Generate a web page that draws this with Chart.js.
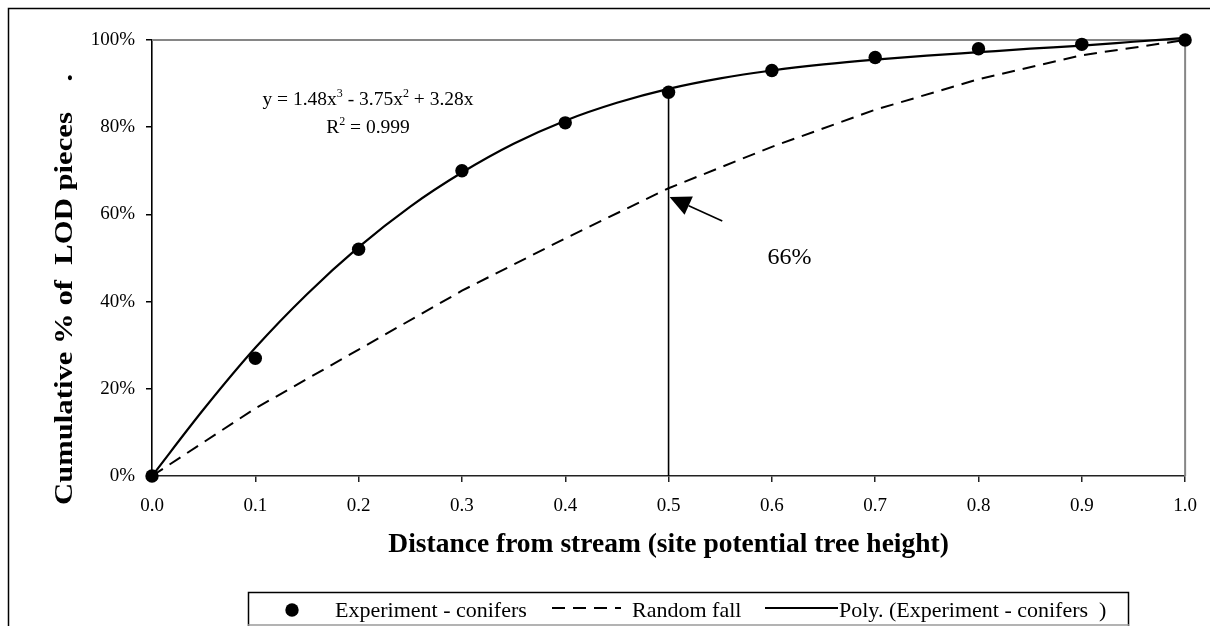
<!DOCTYPE html>
<html>
<head>
<meta charset="utf-8">
<script src="https://cdn.jsdelivr.net/npm/chart.js@4.4.0/dist/chart.umd.min.js"></script>
<style>
  html, body { margin: 0; padding: 0; background: #fff; }
  canvas { display: block; }
</style>
</head>
<body>
<canvas id="chart" width="1210" height="626"></canvas>
<script>
// measured experiment points (cumulative % at each distance)
const distances = [0, 0.1, 0.2, 0.3, 0.4, 0.5, 0.6, 0.7, 0.8, 0.9, 1.0];
const experimentPct = [0, 27, 52, 70, 81, 88, 93, 96, 98, 99, 100];
const randomFallPct = [0, 15.5, 29, 42.5, 54.5, 66, 75.5, 84, 91, 96.5, 100];

// trend line
const polyX = [0, 0.05, 0.1, 0.15, 0.2, 0.25, 0.3, 0.35, 0.4, 0.45, 0.5,
               0.55, 0.6, 0.65, 0.7, 0.75, 0.8, 0.85, 0.9, 0.95, 1.0];
const polyPct = [0, 15.3, 29.4, 41.7, 52.5, 61.8, 69.6, 76.2, 81.5, 85.6, 88.8,
                 91.2, 93.0, 94.4, 95.5, 96.4, 97.2, 98.0, 98.7, 99.6, 100.5];

const seriesLabels = ['Experiment - conifers', 'Random fall', 'Poly. (Experiment - conifers  )'];
const markerX = [0.5, 0.5];
const markerPct = [0, 88];
const calloutText = '66%';

const xTitle = 'Distance from stream (site potential tree height)';
const yTitle = 'Cumulative % of  LOD pieces    .';
const equation = [['y = 1.48x', false], ['3', true], [' - 3.75x', false], ['2', true], [' + 3.28x', false]];
const rSquared = [['R', false], ['2', true], [' = 0.999', false]];

const SERIF = '"Liberation Serif", "Times New Roman", serif';
const zip = (xs, ys) => xs.map((x, i) => ({ x: x, y: ys[i] }));

function drawRich(ctx, parts, cx, baseline, size) {
  const supSize = Math.round(size * 0.62);
  const widths = parts.map(([t, sup]) => {
    ctx.font = `${sup ? supSize : size}px ${SERIF}`;
    return ctx.measureText(t).width;
  });
  let x = cx - widths.reduce((a, b) => a + b, 0) / 2;
  ctx.textAlign = 'left';
  ctx.textBaseline = 'alphabetic';
  parts.forEach(([t, sup], i) => {
    ctx.font = `${sup ? supSize : size}px ${SERIF}`;
    ctx.fillText(t, x, sup ? baseline - size * 0.42 : baseline);
    x += widths[i];
  });
}

const decor = {
  id: 'decor',
  beforeDraw(chart) {
    const ctx = chart.ctx;
    ctx.save();
    ctx.fillStyle = '#fff';
    ctx.fillRect(0, 0, chart.width, chart.height);
    ctx.restore();
  },
  beforeDatasetsDraw(chart) {
    const { ctx, chartArea: a } = chart;
    ctx.save();
    ctx.strokeStyle = '#868686';
    ctx.lineWidth = 2;
    ctx.beginPath();
    ctx.moveTo(a.left, a.top);
    ctx.lineTo(a.right, a.top);
    ctx.lineTo(a.right, a.bottom);
    ctx.stroke();
    ctx.restore();
  },
  afterDraw(chart) {
    const { ctx, chartArea: a, scales: { x, y } } = chart;
    ctx.save();
    ctx.fillStyle = '#000';
    ctx.strokeStyle = '#000';

    // outer frame (cut off at right and bottom)
    ctx.lineWidth = 1.5;
    ctx.beginPath();
    ctx.moveTo(8.5, chart.height + 10);
    ctx.lineTo(8.5, 8.5);
    ctx.lineTo(chart.width + 10, 8.5);
    ctx.stroke();

    // axis titles
    ctx.font = `bold 27.5px ${SERIF}`;
    ctx.textAlign = 'center';
    ctx.textBaseline = 'alphabetic';
    ctx.fillText(xTitle, (a.left + a.right) / 2, 552);

    ctx.save();
    ctx.translate(72, 505);
    ctx.rotate(-Math.PI / 2);
    ctx.scale(1.18, 1);
    ctx.textAlign = 'left';
    ctx.font = `bold 26px ${SERIF}`;
    ctx.fillText(yTitle, 0, 0);
    ctx.restore();

    // trend equation
    drawRich(ctx, equation, 368, 105, 19.5);
    drawRich(ctx, rSquared, 368, 133, 19.5);

    // arrow to the random fall curve
    const tx = x.getPixelForValue(0.501), ty = y.getPixelForValue(64);
    const sx = x.getPixelForValue(0.552), sy = y.getPixelForValue(58.5);
    const ang = Math.atan2(ty - sy, tx - sx);
    const headLen = 21, headW = 10;
    const bx = tx - headLen * Math.cos(ang), by = ty - headLen * Math.sin(ang);
    ctx.lineWidth = 1.6;
    ctx.beginPath();
    ctx.moveTo(sx, sy);
    ctx.lineTo(bx, by);
    ctx.stroke();
    ctx.beginPath();
    ctx.moveTo(tx, ty);
    ctx.lineTo(bx + headW * Math.sin(ang), by - headW * Math.cos(ang));
    ctx.lineTo(bx - headW * Math.sin(ang), by + headW * Math.cos(ang));
    ctx.closePath();
    ctx.fill();

    ctx.font = `24px ${SERIF}`;
    ctx.textAlign = 'center';
    ctx.textBaseline = 'middle';
    ctx.fillText(calloutText, x.getPixelForValue(0.617), y.getPixelForValue(50));

    // legend box
    const ds = chart.data.datasets;
    ctx.lineWidth = 1.5;
    ctx.strokeStyle = '#000';
    ctx.strokeRect(248.5, 592.5, 880, 40);
    ctx.strokeStyle = '#9a9a9a';
    ctx.beginPath();
    ctx.moveTo(248, 625);
    ctx.lineTo(1129, 625);
    ctx.stroke();

    const ly = 610;
    ctx.font = `22px ${SERIF}`;
    ctx.textAlign = 'left';
    ctx.textBaseline = 'alphabetic';
    ctx.fillStyle = '#000';

    ctx.beginPath();
    ctx.arc(292, ly, 6.7, 0, Math.PI * 2);
    ctx.fill();
    ctx.fillText(ds[0].label, 335, 617);

    ctx.strokeStyle = '#000';
    ctx.lineWidth = 2;
    ctx.setLineDash(ds[1].borderDash);
    ctx.beginPath();
    ctx.moveTo(552, 608);
    ctx.lineTo(621, 608);
    ctx.stroke();
    ctx.setLineDash([]);
    ctx.fillText(ds[1].label, 632, 617);

    ctx.beginPath();
    ctx.moveTo(765, 608);
    ctx.lineTo(838, 608);
    ctx.stroke();
    ctx.fillText(ds[2].label, 839, 617);

    ctx.restore();
  }
};

new Chart(document.getElementById('chart'), {
  type: 'line',
  data: {
    datasets: [
      {
        label: seriesLabels[0],
        data: zip(distances, experimentPct),
        showLine: false,
        pointRadius: 6.7,
        pointBackgroundColor: '#000',
        pointBorderColor: '#000',
        pointBorderWidth: 0,
        clip: false,
        order: 0
      },
      {
        label: seriesLabels[1],
        data: zip(distances, randomFallPct),
        borderColor: '#000',
        borderWidth: 2,
        borderDash: [13, 8],
        pointRadius: 0,
        tension: 0,
        fill: false,
        clip: false,
        order: 2
      },
      {
        label: seriesLabels[2],
        data: zip(polyX, polyPct),
        borderColor: '#000',
        borderWidth: 2.2,
        pointRadius: 0,
        cubicInterpolationMode: 'monotone',
        fill: false,
        clip: false,
        order: 1
      },
      {
        label: '',
        data: zip(markerX, markerPct),
        borderColor: '#000',
        borderWidth: 1.6,
        pointRadius: 0,
        fill: false,
        order: 3
      }
    ]
  },
  options: {
    responsive: false,
    animation: false,
    devicePixelRatio: 1,
    layout: { padding: { top: 40, right: 24, left: 0, bottom: 0 } },
    plugins: {
      legend: { display: false },
      tooltip: { enabled: false }
    },
    scales: {
      x: {
        type: 'linear',
        min: 0,
        max: 1,
        afterFit: (scale) => { scale.height = 150; },
        border: { display: true, color: '#222', width: 1.6 },
        grid: { display: true, drawOnChartArea: false, drawTicks: true, tickLength: 6, color: '#222', lineWidth: 1.5 },
        ticks: {
          stepSize: 0.1,
          autoSkip: false,
          maxRotation: 0,
          padding: 13,
          color: '#000',
          font: { family: SERIF, size: 19 },
          callback: (v) => Number(v).toFixed(1)
        }
      },
      y: {
        type: 'linear',
        min: 0,
        max: 100,
        afterFit: (scale) => { scale.width = 152; },
        border: { display: true, color: '#000', width: 1.6 },
        grid: { display: true, drawOnChartArea: false, drawTicks: true, tickLength: 6, color: '#000', lineWidth: 1.5 },
        ticks: {
          stepSize: 20,
          padding: 11,
          color: '#000',
          font: { family: SERIF, size: 19 },
          callback: (v) => v + '%'
        }
      }
    }
  },
  plugins: [decor]
});
</script>
</body>
</html>
